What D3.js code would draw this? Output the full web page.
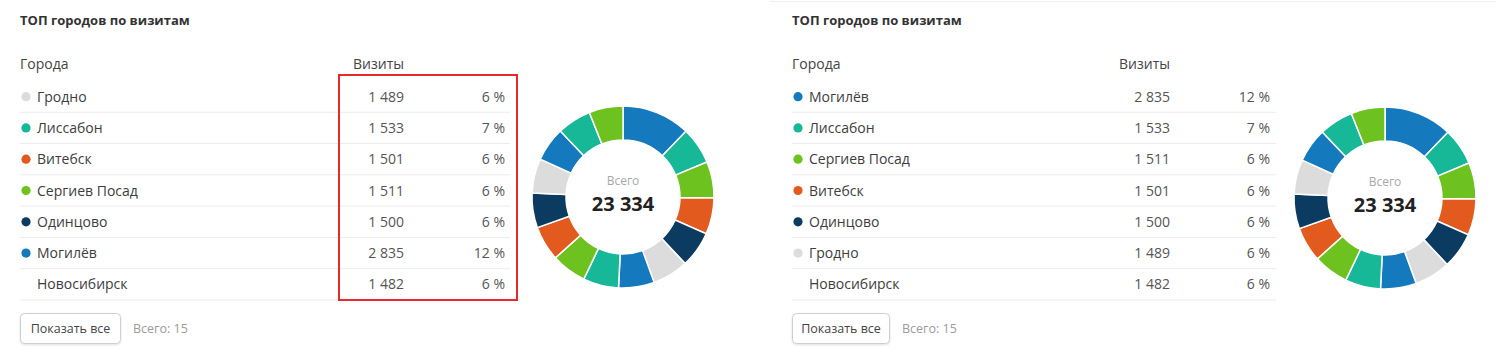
<!DOCTYPE html>
<html>
<head>
<meta charset="utf-8">
<script src="https://cdn.jsdelivr.net/npm/d3@7"></script>
<style>
  body { margin: 0; background: #fff; }
  svg { display: block; font-family: "Open Sans", "Noto Sans", sans-serif; }
</style>
</head>
<body>
<div id="chart"></div>
<script>
// ТОП городов по визитам - two copies of the same widget, unsorted and sorted

// table rows, as shown on the left
const leftCities = ['Гродно', 'Лиссабон', 'Витебск', 'Сергиев Посад', 'Одинцово', 'Могилёв', 'Новосибирск'];
const leftVisits = [1489, 1533, 1501, 1511, 1500, 2835, 1482];

// table rows, as shown on the right (sorted by visits)
const rightCities = ['Могилёв', 'Лиссабон', 'Сергиев Посад', 'Витебск', 'Одинцово', 'Гродно', 'Новосибирск'];
const rightVisits = [2835, 1533, 1511, 1501, 1500, 1489, 1482];

// all 15 cities for the donut, largest first (last 8)
const donutVisits = [2835, 1533, 1511, 1501, 1500, 1489, 1482, 1470, 1458, 1447, 1437, 1431, 1420, 1414, 1406];
const totalCities = 15;

const palette = ['#1479bd', '#17b898', '#6dc220', '#e25a1d', '#0b3b61', '#dcdcdc'];
const cityColor = {
  'Могилёв': '#1479bd',
  'Лиссабон': '#17b898',
  'Сергиев Посад': '#6dc220',
  'Витебск': '#e25a1d',
  'Одинцово': '#0b3b61',
  'Гродно': '#dcdcdc'
};

const total = d3.sum(donutVisits);
const loc = d3.formatLocale({ decimal: ',', thousands: '\u00a0', grouping: [3], currency: ['', ''] });
const fmt = loc.format(',d');

const width = 1496, height = 354;
const svg = d3.select('#chart').append('svg')
  .attr('width', width)
  .attr('height', height);

// faint border on top of the second card
svg.append('line')
  .attr('x1', 770).attr('x2', width).attr('y1', 1.5).attr('y2', 1.5)
  .attr('stroke', '#efefef');

function drawPanel(opt) {
  const g = svg.append('g');
  const cities = opt.cities, visits = opt.visits;

  const y = d3.scaleBand()
    .domain(d3.range(cities.length))
    .range([81, 300]);

  g.append('text')
    .attr('x', opt.x0).attr('y', 25)
    .attr('fill', '#333').style('font-size', '13px').style('font-weight', 700)
    .text('ТОП городов по визитам');

  g.append('text')
    .attr('x', opt.x0).attr('y', 69)
    .attr('fill', '#444').style('font-size', '14px')
    .text('Города');
  g.append('text')
    .attr('x', opt.numRight).attr('y', 69)
    .attr('text-anchor', 'end')
    .attr('fill', '#444').style('font-size', '14px')
    .text('Визиты');

  const rows = g.selectAll('g.row')
    .data(cities)
    .enter().append('g')
    .attr('class', 'row')
    .attr('transform', (d, i) => `translate(0,${y(i) + y.bandwidth() / 2})`);

  rows.filter(d => cityColor[d])
    .append('circle')
    .attr('cx', opt.x0 + 6).attr('cy', 0).attr('r', 4.6)
    .attr('fill', d => cityColor[d]);

  rows.append('text')
    .attr('x', opt.x0 + 17).attr('y', 5)
    .attr('fill', '#3d3d3d').style('font-size', '14px')
    .text(d => d);

  rows.append('text')
    .attr('x', opt.numRight).attr('y', 5)
    .attr('text-anchor', 'end')
    .attr('fill', '#555').style('font-size', '14px')
    .text((d, i) => fmt(visits[i]));

  rows.append('text')
    .attr('x', opt.pctRight).attr('y', 5)
    .attr('text-anchor', 'end')
    .attr('fill', '#555').style('font-size', '14px')
    .text((d, i) => Math.round(visits[i] / total * 100) + '\u00a0%');

  rows.append('line')
    .attr('x1', opt.x0).attr('x2', opt.lineEnd)
    .attr('y1', y.bandwidth() / 2).attr('y2', y.bandwidth() / 2)
    .attr('stroke', '#ececec');

  if (opt.box) {
    g.append('rect')
      .attr('x', 339).attr('y', 75).attr('width', 178).attr('height', 225)
      .attr('fill', 'none').attr('stroke', '#e8282c').attr('stroke-width', 2);
  }

  // button + count
  g.append('rect')
    .attr('x', opt.x0 + 0.5).attr('y', 313.5).attr('width', opt.btnW).attr('height', 30).attr('rx', 4)
    .attr('fill', '#fff').attr('stroke', '#cfcfcf')
    .style('filter', 'drop-shadow(0 1px 1px rgba(0,0,0,0.12))');
  g.append('text')
    .attr('x', opt.x0 + 0.5 + opt.btnW / 2).attr('y', 332.5)
    .attr('text-anchor', 'middle')
    .attr('fill', '#444').style('font-size', '12.5px')
    .text('Показать все');
  g.append('text')
    .attr('x', opt.x0 + opt.btnW + 13).attr('y', 332.5)
    .attr('fill', '#9b9b9b').style('font-size', '12.5px')
    .text('Всего: ' + totalCities);

  // donut
  const pie = d3.pie().sort(null).value(d => d);
  const arc = d3.arc().innerRadius(57).outerRadius(91);
  const dg = g.append('g').attr('transform', `translate(${opt.cx},${opt.cy})`);
  dg.selectAll('path')
    .data(pie(donutVisits))
    .enter().append('path')
    .attr('d', arc)
    .attr('fill', (d, i) => palette[i % palette.length])
    .attr('stroke', '#fff')
    .attr('stroke-width', 1.5);

  dg.append('text')
    .attr('y', -12).attr('text-anchor', 'middle')
    .attr('fill', '#a8a8a8').style('font-size', '12px')
    .text('Всего');
  dg.append('text')
    .attr('y', 14).attr('text-anchor', 'middle')
    .attr('fill', '#222').style('font-size', '20px').style('font-weight', 700)
    .text(fmt(total));
}

drawPanel({ cities: leftCities, visits: leftVisits, x0: 20, numRight: 404, pctRight: 505, lineEnd: 510,
  cx: 623, cy: 197, box: true, btnW: 100 });
drawPanel({ cities: rightCities, visits: rightVisits, x0: 792, numRight: 1170, pctRight: 1270, lineEnd: 1276,
  cx: 1385, cy: 198, box: false, btnW: 97 });
</script>
</body>
</html>
